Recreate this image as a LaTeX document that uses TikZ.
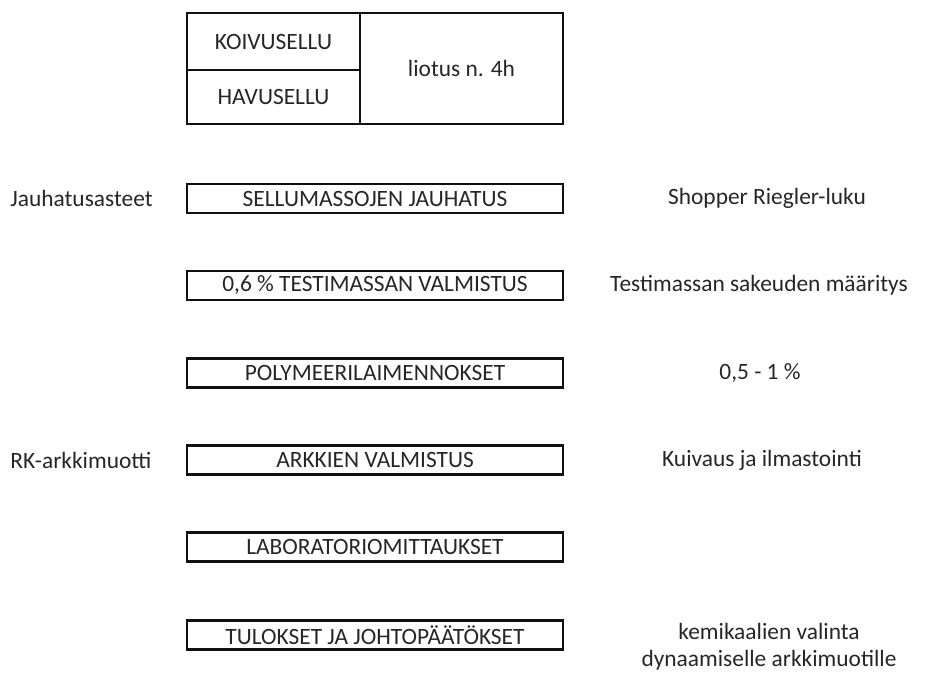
\documentclass[tikz,border=0pt]{standalone}
\usepackage{fontspec}
\setmainfont{Carlito}
\usepackage{xcolor}
\usetikzlibrary{positioning}
\definecolor{ink}{HTML}{262626}
\definecolor{edge}{HTML}{111111}
\tikzset{
  cell/.style={draw=edge, line width=1.4pt, inner sep=0pt, align=center,
               text=ink, font=\fontsize{11.7}{13.5}\selectfont},
  stage/.style={draw=edge, line width=1.4pt, minimum width=188pt, minimum height=14.5pt,
                inner sep=0pt, text=ink, font=\fontsize{11.7}{13.5}\selectfont},
  note/.style={text=ink, inner sep=0pt, align=center, font=\fontsize{11.7}{13.5}\selectfont}
}

\begin{document}
\begin{tikzpicture}[x=0.5pt,y=-0.5pt]
        \useasboundingbox (0,0) rectangle (927,673);
        % pulp soaking
        \node[cell,minimum width=86.5pt,minimum height=28.5pt] (koivu) at (273.5,41.5) {KOIVUSELLU};
        \node[cell,minimum width=86.5pt,minimum height=27pt] (havu) at (273.5,97) {HAVUSELLU};
        \node[cell,minimum width=101.5pt,minimum height=55.5pt] (liotus) at (461.5,68.5) {liotus n. 4h};
        % process steps
        \node[stage] (jauhatus) at (375,198.5) {SELLUMASSOJEN JAUHATUS};
        \node[stage] (testimassa) at (375,285.5) {0,6 \% TESTIMASSAN VALMISTUS};
        \node[stage] (polymeeri) at (375,373) {POLYMEERILAIMENNOKSET};
        \node[stage] (arkit) at (375,460) {ARKKIEN VALMISTUS};
        \node[stage] (mittaus) at (375,547) {LABORATORIOMITTAUKSET};
        \node[stage] (tulos) at (375,635) {TULOKSET JA JOHTOPÄÄTÖKSET};
        % side notes
        \node[note,anchor=west] (asteet) at (10,198.5) {Jauhatusasteet};
        \node[note,anchor=west] (muotti) at (10,460) {RK-arkkimuotti};
        \node[note] (sr) at (767,198.5) {Shopper Riegler-luku};
        \node[note] (sakeus) at (759,285.5) {Testimassan sakeuden määritys};
        \node[note] (pitoisuus) at (760,373) {0,5 - 1 \%};
        \node[note] (kuivaus) at (762,460) {Kuivaus ja ilmastointi};
        \node[note] (valinta) at (769,647) {kemikaalien valinta\\dynaamiselle arkkimuotille};
      \end{tikzpicture}
\end{document}
